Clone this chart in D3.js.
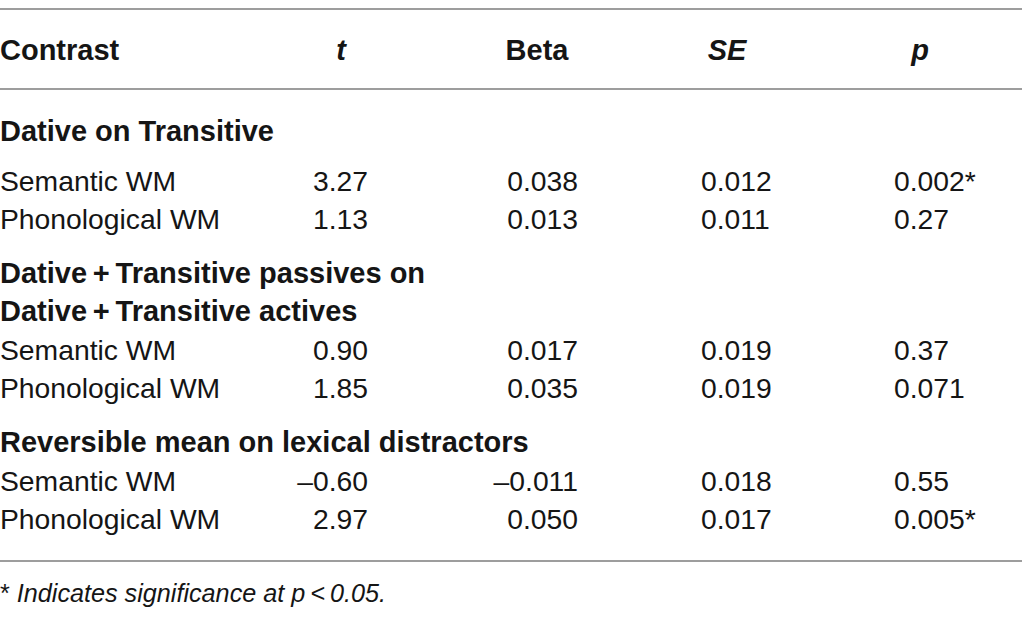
<!DOCTYPE html>
<html><head><meta charset="utf-8">
<script src="https://cdn.jsdelivr.net/npm/d3@7"></script>
<style>
html,body{margin:0;padding:0;background:#fff;}
svg{display:block;}
</style></head>
<body>
<svg id="chart" width="1022" height="623"></svg>
<script>
// ---- data ----
const columns = ["Contrast", "t", "Beta", "SE", "p"];
const groups = [
  ["Dative on Transitive"],
  ["Dative\u2009+\u2009Transitive passives on", "Dative\u2009+\u2009Transitive actives"],
  ["Reversible mean on lexical distractors"]
];
const predictors = ["Semantic WM", "Phonological WM"];
const tValues    = [["3.27", "1.13"], ["0.90", "1.85"], ["\u20130.60", "2.97"]];
const betaValues = [["0.038", "0.013"], ["0.017", "0.035"], ["\u20130.011", "0.050"]];
const seValues   = [["0.012", "0.011"], ["0.019", "0.019"], ["0.018", "0.017"]];
const pValues    = [["0.002*", "0.27"], ["0.37", "0.071"], ["0.55", "0.005*"]];
const footnote   = "Indicates significance at p\u2009<\u20090.05.";

// ---- layout ----
const W = 1022, H = 623;
const svg = d3.select("#chart");
const FONT = "'Liberation Sans', Arial, Helvetica, sans-serif";
const lineColor = "#9d9d9d";
const textColor = "#151515";

const colX = d3.scaleOrdinal().domain(["label","t","Beta","SE","p"]).range([0, 368, 578, 701, 894]);
const colAnchor = d3.scaleOrdinal().domain(["label","t","Beta","SE","p"]).range(["start","end","end","start","start"]);
const headX = d3.scaleOrdinal().domain(columns).range([0, 341, 537, 727, 920]);
const headAnchor = d3.scaleOrdinal().domain(columns).range(["start","middle","middle","middle","middle"]);

const rows = [];
let y = 131;
groups.forEach((g, gi) => {
  if (gi > 0) y += 54;
  g.forEach((lbl, li) => {
    if (li > 0) y += 38;
    rows.push({type: "group", y, text: lbl});
  });
  y += gi === 0 ? 50 : 39;
  predictors.forEach((pr, pi) => {
    if (pi > 0) y += 38;
    rows.push({type: "data", y, label: pr, t: tValues[gi][pi], Beta: betaValues[gi][pi], SE: seValues[gi][pi], p: pValues[gi][pi]});
  });
});

const yScale = d3.scaleLinear().domain([0, H]).range([0, H]);

const rules = [9, 89, 561];
svg.selectAll("line.rule").data(rules).join("line")
  .attr("class", "rule")
  .attr("x1", 0).attr("x2", W)
  .attr("y1", d => yScale(d)).attr("y2", d => yScale(d))
  .attr("stroke", lineColor).attr("stroke-width", 2);

svg.selectAll("text.head").data(columns).join("text")
  .attr("class", "head")
  .attr("x", d => headX(d))
  .attr("y", yScale(50))
  .attr("dy", "0.35em")
  .attr("text-anchor", d => headAnchor(d))
  .attr("font-family", FONT)
  .attr("font-weight", "bold")
  .attr("font-style", d => (d === "t" || d === "SE" || d === "p") ? "italic" : "normal")
  .attr("font-size", 29)
  .attr("fill", textColor)
  .text(d => d);

svg.selectAll("text.group").data(rows.filter(r => r.type === "group")).join("text")
  .attr("class", "group")
  .attr("x", 0)
  .attr("y", d => yScale(d.y))
  .attr("dy", "0.35em")
  .attr("font-family", FONT)
  .attr("font-weight", "bold")
  .attr("font-size", 29)
  .attr("fill", textColor)
  .text(d => d.text);

const dataRows = rows.filter(r => r.type === "data");
const cellKeys = ["label","t","Beta","SE","p"];
const cells = [];
dataRows.forEach(r => cellKeys.forEach(k => cells.push({k, y: r.y, text: r[k]})));
svg.selectAll("text.cell").data(cells).join("text")
  .attr("class", "cell")
  .attr("x", d => colX(d.k))
  .attr("y", d => yScale(d.y))
  .attr("dy", "0.35em")
  .attr("text-anchor", d => colAnchor(d.k))
  .attr("font-family", FONT)
  .attr("font-size", 28.3)
  .attr("fill", textColor)
  .text(d => d.text);

const foot = svg.append("text")
  .attr("x", 0).attr("y", yScale(593)).attr("dy", "0.35em")
  .attr("font-family", FONT).attr("font-size", 25.2).attr("fill", textColor);
foot.append("tspan").text("* ");
foot.append("tspan").attr("font-style", "italic").text(footnote);
</script>
</body></html>
